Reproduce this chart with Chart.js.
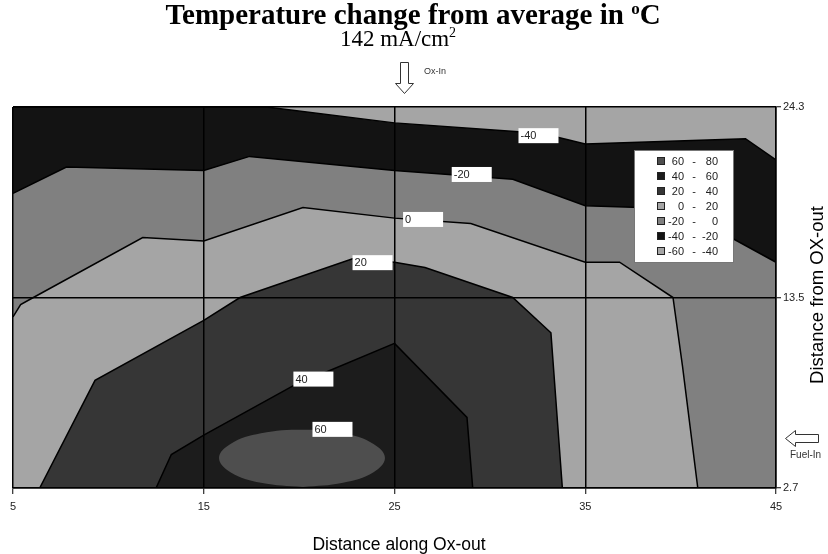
<!DOCTYPE html>
<html>
<head>
<meta charset="utf-8">
<script src="https://cdn.jsdelivr.net/npm/chart.js@4.4.1/dist/chart.umd.min.js"></script>
<style>
  html, body { margin: 0; padding: 0; background: #fff; }
  #wrap { width: 828px; height: 554px; }
</style>
</head>
<body>
<div id="wrap"><canvas id="myChart" width="828" height="554"></canvas></div>
<script>
// axis ticks
const xTicks = [5, 15, 25, 35, 45]
const yTicks = [2.7, 13.5, 24.3]

// contour levels, low to high
const levels = [-60, -40, -20, 0, 20, 40, 60, 80]

// contour lines, [x, y]
const contourM40 = [[5, 24.3], [18.3, 24.3], [25, 23.4], [31.5, 22.9], [33.5, 22.6], [35, 22.2], [43.4, 22.5], [45, 21.3]]
const contourM20 = [[5, 19.4], [7.8, 20.9], [15, 20.7], [17.4, 21.5], [25, 20.7], [31.2, 20.2], [35, 18.7], [37.9, 18.6], [42.8, 16.8], [45, 15.5]]
const contour0 = [[5, 12.4], [5.4, 13.1], [5.9, 13.4], [11.8, 16.9], [15, 16.7], [20.2, 18.6], [25, 18.0], [29, 17.7], [35, 15.5], [36.8, 15.5], [39.6, 13.5], [40.1, 9.6], [40.9, 2.7]]
const contour20 = [[6.4, 2.7], [9.3, 8.8], [15, 12.2], [16.9, 13.5], [22.8, 15.7], [25, 15.5], [26.6, 15.2], [31.2, 13.5], [33.2, 11.5], [33.8, 2.7]]
const contour40 = [[12.5, 2.7], [13.3, 4.6], [15, 5.7], [19.7, 8.5], [25, 10.9], [28.8, 6.7], [29.1, 2.7]]
// the 60 island, a closed loop
const contour60 = [[20.2, 2.75], [22.3, 3.0], [23.9, 3.6], [24.5, 4.4], [23.9, 5.2], [22.3, 5.8], [20.2, 6.0], [18.0, 5.8],
  [16.4, 5.2], [15.8, 4.4], [16.4, 3.6], [18.0, 3.0], [20.2, 2.75]]

// contour value labels: text, x, y (top-left of the box)
const contourLabels = [['-40', 31.5, 23.1], ['-20', 28.0, 20.9], ['0', 25.45, 18.35], ['20', 22.8, 15.9], ['40', 19.7, 9.3], ['60', 20.7, 6.45]]

const bandColors = ['#a5a5a5', '#131313', '#808080', '#a5a5a5', '#363636', '#1c1c1c', '#4e4e4e']
const sans = '"Liberation Sans", Arial, sans-serif'
const serif = '"Liberation Serif", "Times New Roman", serif'

const contours = [contourM40, contourM20, contour0, contour20, contour40, contour60]
const datasets = contours.map((pts, i) => ({
  data: pts.map(p => ({x: p[0], y: p[1]})),
  fill: i === 5 ? 'shape' : 'start',
  backgroundColor: bandColors[i + 1],
  borderColor: '#000',
  borderWidth: i === 5 ? 0 : 1.5,
  tension: i === 5 ? 0.4 : 0,
  pointRadius: 0,
  order: 6 - i
}))

const decorations = {
  id: 'decorations',
  beforeDraw(chart) {
    const {ctx, chartArea: a} = chart
    ctx.save()
    ctx.fillStyle = '#fff'
    ctx.fillRect(0, 0, chart.width, chart.height)
    ctx.fillStyle = bandColors[0]
    ctx.fillRect(a.left, a.top, a.right - a.left, a.bottom - a.top)
    ctx.restore()
  },
  afterDraw(chart) {
    const {ctx, scales: {x, y}} = chart
    ctx.save()

    // contour labels
    ctx.font = '11px ' + sans
    ctx.textBaseline = 'middle'
    ctx.textAlign = 'left'
    contourLabels.forEach(([t, lx, ly]) => {
      const px = x.getPixelForValue(lx), py = y.getPixelForValue(ly)
      ctx.fillStyle = '#fff'
      ctx.fillRect(px, py, 40, 15)
      ctx.fillStyle = '#222'
      ctx.fillText(t, px + 2, py + 8)
    })

    // legend
    const lx = 634, ly = 150
    ctx.fillStyle = '#fff'
    ctx.fillRect(lx, ly, 99, 112)
    ctx.strokeStyle = '#777'
    ctx.lineWidth = 1
    ctx.strokeRect(lx + 0.5, ly + 0.5, 99, 112)
    for (let i = 0; i < 7; i++) {
      const band = 6 - i
      const ry = ly + 11 + i * 15
      ctx.fillStyle = bandColors[band]
      ctx.fillRect(lx + 23, ry - 4, 8, 8)
      ctx.strokeStyle = '#222'
      ctx.strokeRect(lx + 23.5, ry - 3.5, 7, 7)
      ctx.fillStyle = '#222'
      ctx.textAlign = 'right'
      ctx.fillText(String(levels[band]), lx + 50, ry + 1)
      ctx.textAlign = 'center'
      ctx.fillText('-', lx + 60, ry + 1)
      ctx.textAlign = 'right'
      ctx.fillText(String(levels[band + 1]), lx + 84, ry + 1)
    }

    // title with superscript
    ctx.fillStyle = '#000'
    ctx.textAlign = 'left'
    ctx.textBaseline = 'alphabetic'
    const t1 = 'Temperature change from average in '
    ctx.font = 'bold 29px ' + serif
    const w1 = ctx.measureText(t1).width, wC = ctx.measureText('C').width
    ctx.font = 'bold 17px ' + serif
    const wo = ctx.measureText('o').width
    let tx = 413 - (w1 + wo + wC) / 2
    ctx.font = 'bold 29px ' + serif
    ctx.fillText(t1, tx, 24)
    ctx.font = 'bold 17px ' + serif
    ctx.fillText('o', tx + w1, 14)
    ctx.font = 'bold 29px ' + serif
    ctx.fillText('C', tx + w1 + wo, 24)

    // subtitle
    ctx.font = '23px ' + serif
    const s1 = '142 mA/cm'
    const ws = ctx.measureText(s1).width
    ctx.font = '14px ' + serif
    const w2 = ctx.measureText('2').width
    tx = 398 - (ws + w2) / 2
    ctx.font = '23px ' + serif
    ctx.fillText(s1, tx, 46)
    ctx.font = '14px ' + serif
    ctx.fillText('2', tx + ws, 37)

    // Ox-In arrow
    ctx.strokeStyle = '#333'
    ctx.fillStyle = '#fff'
    ctx.beginPath()
    ctx.moveTo(400.5, 62.5); ctx.lineTo(408.5, 62.5); ctx.lineTo(408.5, 83.5); ctx.lineTo(413.5, 83.5)
    ctx.lineTo(404.5, 93.5); ctx.lineTo(395.5, 83.5); ctx.lineTo(400.5, 83.5); ctx.closePath()
    ctx.fill(); ctx.stroke()
    ctx.fillStyle = '#333'
    ctx.font = '9px ' + sans
    ctx.textBaseline = 'middle'
    ctx.fillText('Ox-In', 424, 72)

    // Fuel-In arrow
    ctx.fillStyle = '#fff'
    ctx.beginPath()
    ctx.moveTo(818.5, 434.5); ctx.lineTo(795.5, 434.5); ctx.lineTo(795.5, 430.5); ctx.lineTo(785.5, 438.5)
    ctx.lineTo(795.5, 446.5); ctx.lineTo(795.5, 442.5); ctx.lineTo(818.5, 442.5); ctx.closePath()
    ctx.fill(); ctx.stroke()
    ctx.fillStyle = '#333'
    ctx.font = '10px ' + sans
    ctx.fillText('Fuel-In', 790, 455)

    // bottom axis title
    ctx.fillStyle = '#000'
    ctx.textAlign = 'center'
    ctx.font = '17.5px ' + sans
    ctx.fillText('Distance along Ox-out', 399, 545)

    // right axis title, reading bottom to top
    ctx.translate(818, 295)
    ctx.rotate(-Math.PI / 2)
    ctx.font = '18.5px ' + sans
    ctx.fillText('Distance from OX-out', 0, 0)
    ctx.restore()
  }
}

new Chart(document.getElementById('myChart'), {
  type: 'line',
  data: { datasets: datasets },
  options: {
    responsive: false,
    animation: false,
    layout: { padding: { left: 13, top: 107, right: 0, bottom: 0 } },
    plugins: { legend: { display: false }, tooltip: { enabled: false } },
    scales: {
      x: {
        type: 'linear',
        min: 5,
        max: 45,
        afterBuildTicks: s => { s.ticks = xTicks.map(v => ({value: v})) },
        afterFit: s => { s.height = 66 },
        grid: { color: '#000', lineWidth: 1.5, z: 1, tickLength: 6, tickWidth: 1, tickColor: '#000' },
        border: { color: '#000', width: 1.5, z: 1 },
        ticks: { color: '#222', font: { family: sans, size: 11 }, padding: 6, maxRotation: 0, autoSkip: false }
      },
      y: {
        type: 'linear',
        position: 'right',
        min: 2.7,
        max: 24.3,
        afterBuildTicks: s => { s.ticks = yTicks.map(v => ({value: v})) },
        afterFit: s => { s.width = 52 },
        grid: { color: '#000', lineWidth: 1.5, z: 1, tickLength: 5, tickWidth: 1, tickColor: '#000' },
        border: { color: '#000', width: 1.5, z: 1 },
        ticks: { color: '#222', font: { family: sans, size: 11 }, padding: 2, callback: v => String(v) }
      }
    }
  },
  plugins: [decorations]
})
</script>
</body>
</html>
